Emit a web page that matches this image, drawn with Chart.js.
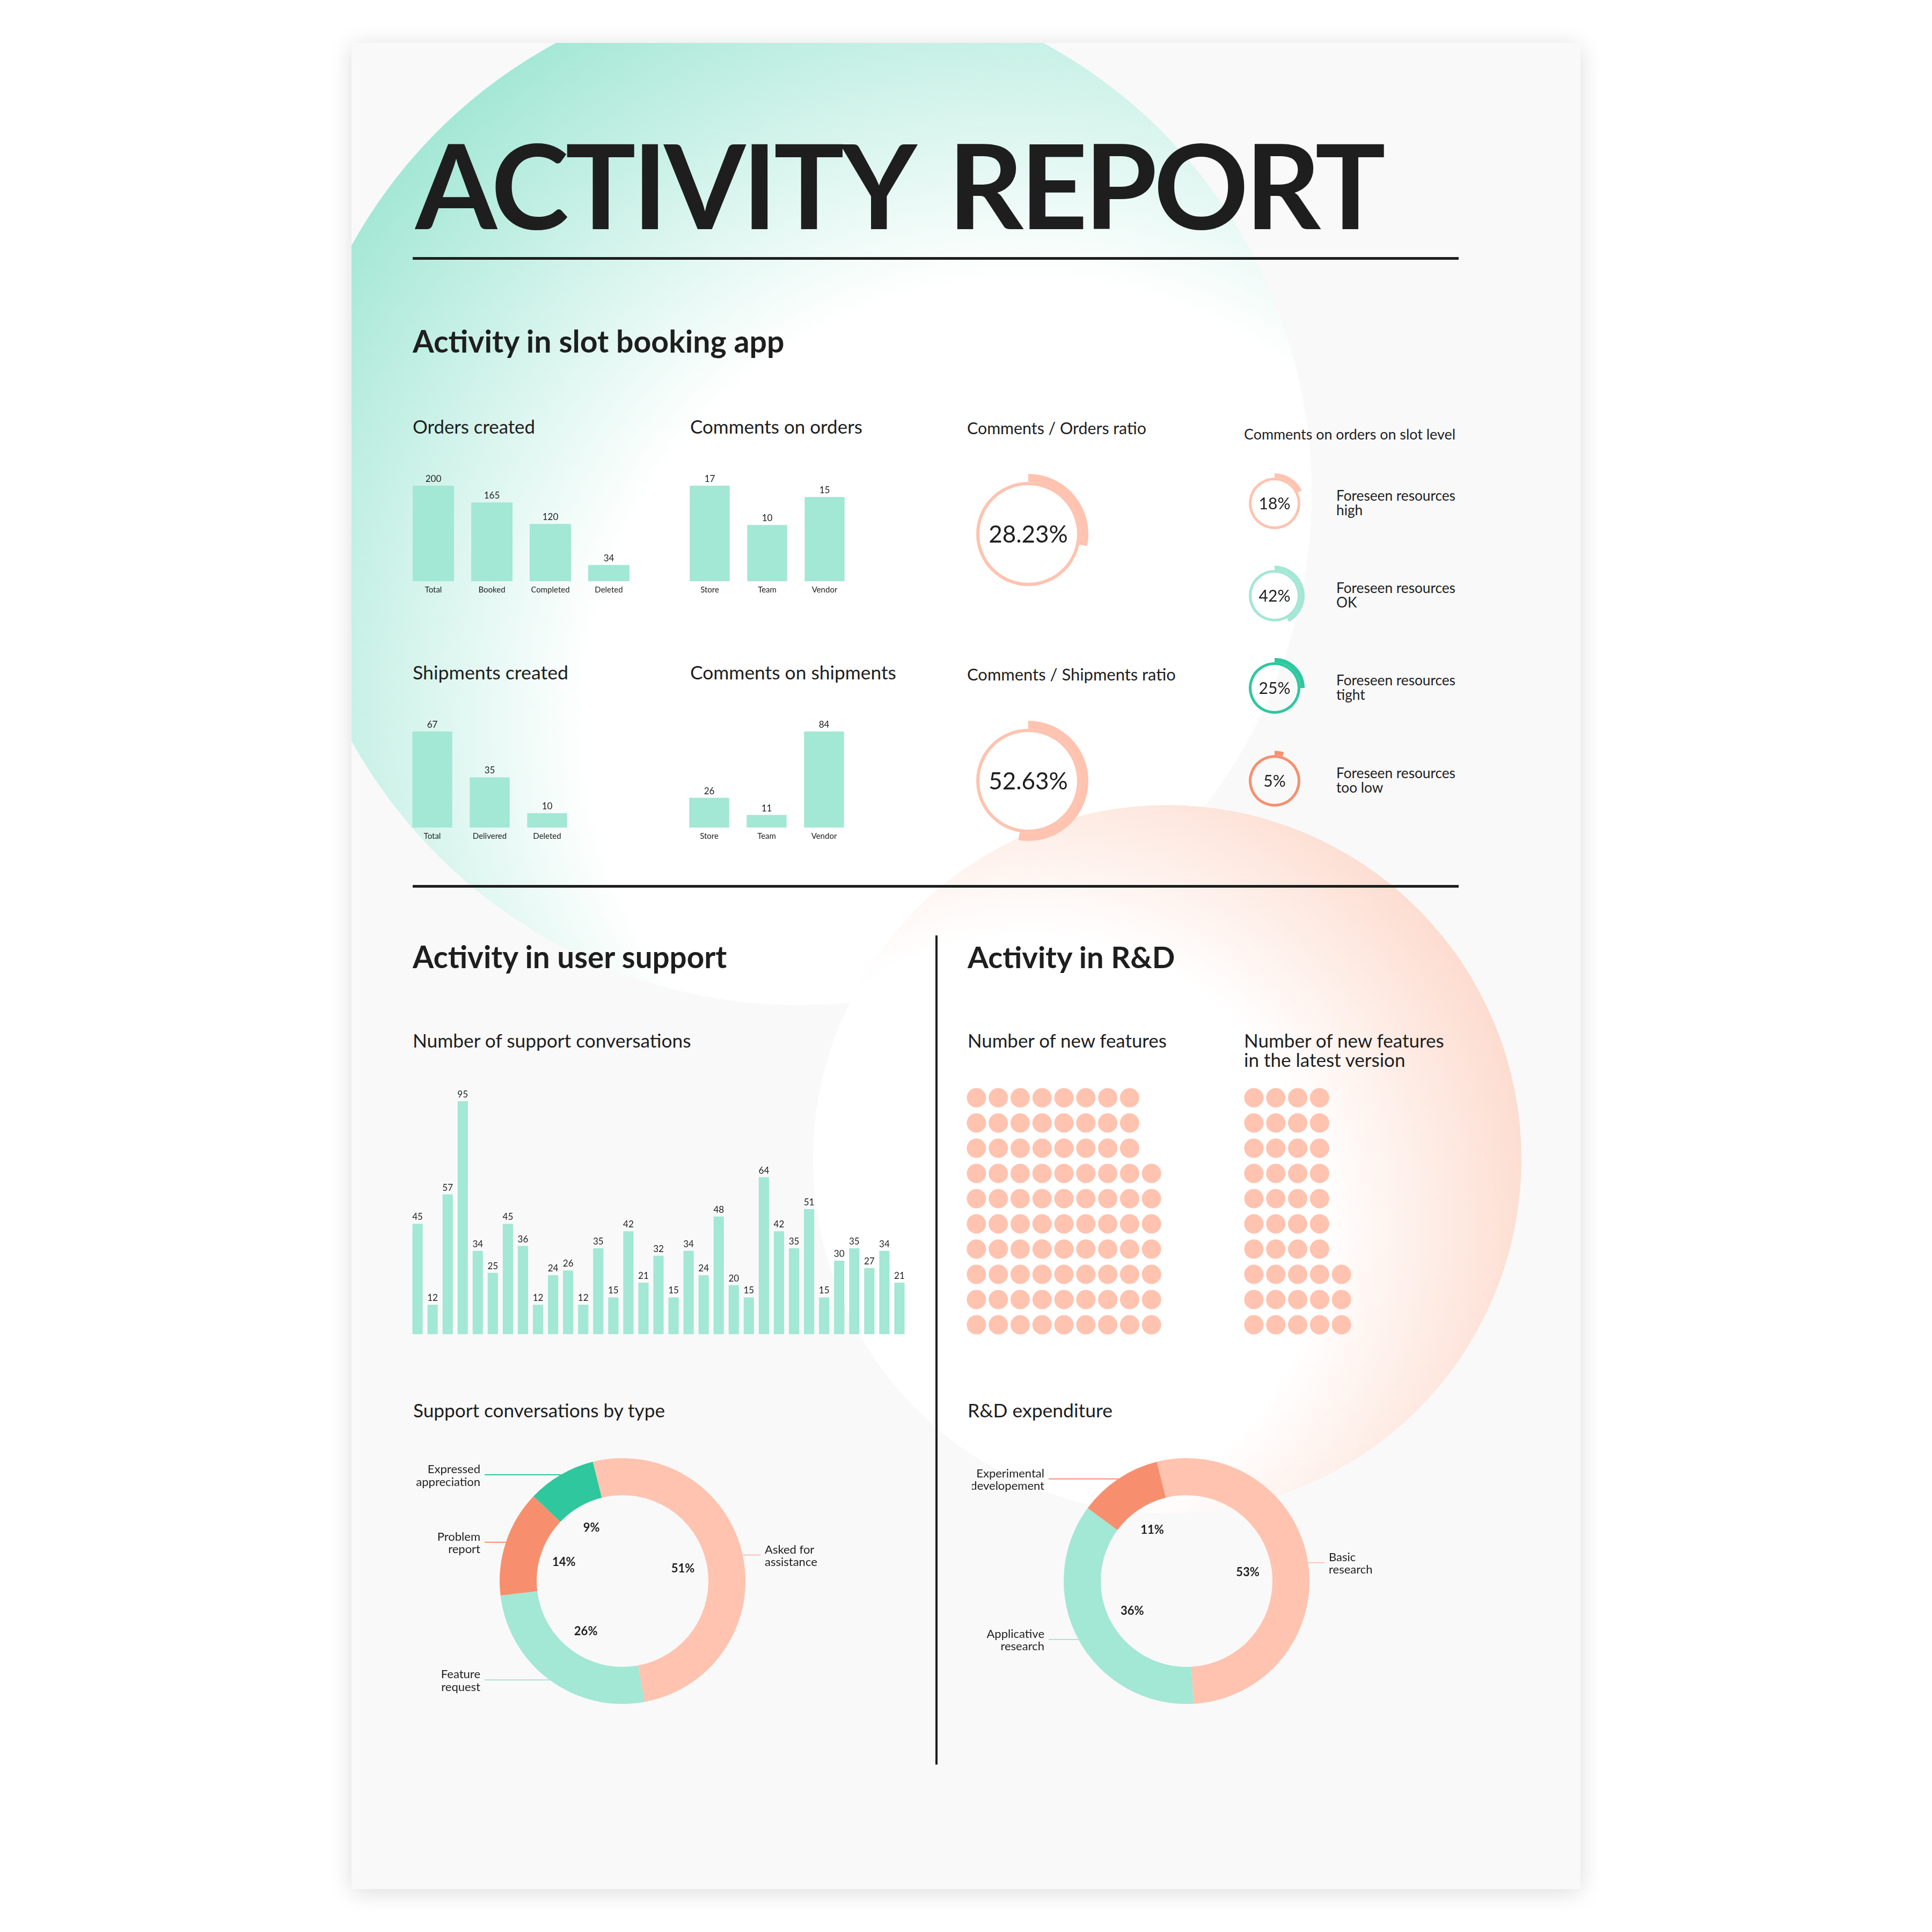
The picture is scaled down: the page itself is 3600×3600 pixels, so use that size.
<!DOCTYPE html>
<html>
<head>
<meta charset="utf-8">
<title>Activity report</title>
<script src="https://cdn.jsdelivr.net/npm/chart.js@4.4.1/dist/chart.umd.min.js"></script>
<style>
  html, body { margin: 0; padding: 0; background: #fff; }
  body { width: 3600px; height: 3600px; position: relative; overflow: hidden; font-family: Lato, 'Open Sans', sans-serif; color: #1e1e1e; }
  #page { position: absolute; left: 655px; top: 80px; width: 2290px; height: 3440px; background: #f9f9f9; overflow: hidden; box-shadow: 0 6px 40px rgba(0, 0, 0, 0.14); }
  .blob { position: absolute; border-radius: 50%; }
  #mint { left: -119px; top: -115px; width: 1908px; height: 1908px; background: radial-gradient(circle at 72% 72%, #ffffff 42%, #a3e7d5 80%); }
  #peach { left: 860px; top: 1420px; width: 1320px; height: 1320px; background: radial-gradient(circle at 30% 60%, #ffffff 45%, #fcd0bf 90%); }
  .rule { position: absolute; background: #1e1e1e; }
  .txt { position: absolute; white-space: nowrap; line-height: 1; }
  .probe { display: inline-block; width: 0; height: 0; vertical-align: baseline; }
  canvas { position: absolute; }
</style>
</head>
<body>
<div id="page"><div class="blob" id="mint"></div><div class="blob" id="peach"></div></div>
<div class="rule" style="left:769px; top:479px; width:1949px; height:5px"></div>
<div class="rule" style="left:769px; top:1649px; width:1949px; height:5px"></div>
<div class="rule" style="left:1743px; top:1743px; width:4px; height:1545px"></div>

<script>
// ---- data ----
const orderCats = ['Total', 'Booked', 'Completed', 'Deleted'];
const orderValues = [200, 165, 120, 34];
const orderCommentCats = ['Store', 'Team', 'Vendor'];
const orderCommentValues = [17, 10, 15];
const shipmentCats = ['Total', 'Delivered', 'Deleted'];
const shipmentValues = [67, 35, 10];
const shipmentCommentCats = ['Store', 'Team', 'Vendor'];
const shipmentCommentValues = [26, 11, 84];

const ratioOrders = 28.23;
const ratioShipments = 52.63;

const slotLabels = [['Foreseen resources', 'high'], ['Foreseen resources', 'OK'], ['Foreseen resources', 'tight'], ['Foreseen resources', 'too low']];
const slotValues = [18, 42, 25, 5];

const supportValues = [45, 12, 57, 95, 34, 25, 45, 36, 12, 24, 26, 12, 35, 15, 42, 21, 32, 15, 34, 24, 48, 20, 15, 64, 42, 35, 51, 15, 30, 35, 27, 34, 21];
const supportPeriods = supportValues.map((v, i) => String(i + 1));

const newFeatures = 87;
const newFeaturesLatest = 43;

const supportTypes = [['Asked for', 'assistance'], ['Feature', 'request'], ['Problem', 'report'], ['Expressed', 'appreciation']];
const supportShares = [51, 26, 14, 9];
const rdTypes = [['Basic', 'research'], ['Applicative', 'research'], ['Experimental', 'developement']];
const rdShares = [53, 36, 11];

// ---- colours ----
const TEXT = '#1e1e1e';
const MINT = '#a3e7d5';
const PEACH = '#ffc3b0';
const TEAL = '#2ec79e';
const SALMON = '#f78f6f';

Chart.defaults.font.family = 'Lato';
Chart.defaults.color = TEXT;
Chart.defaults.layout.autoPadding = false;

// ---- html text, fitted to the measured width of the reference ----
const measureCtx = document.createElement('canvas').getContext('2d');
function textWidth(str, size, weight) {
  measureCtx.font = weight + ' ' + size + 'px Lato';
  return measureCtx.measureText(str).width;
}

function placeText(lines, x, baseline, o) {
  const weight = o.weight || 400;
  let size = o.size || 100;
  let spacing = 0;
  const wordSpacing = o.wordSpacing || 0;
  const widest = Math.max(...lines.map(l => textWidth(l, size, weight)));
  if (o.spacing) {
    spacing = (o.w - widest - wordSpacing) / (lines[0].length - 1);
  } else {
    size = size * o.w / widest;
  }
  lines.forEach((line, k) => {
    const el = document.createElement('div');
    el.className = 'txt';
    el.style.fontSize = size + 'px';
    el.style.fontWeight = weight;
    el.style.letterSpacing = spacing + 'px';
    el.style.wordSpacing = wordSpacing + 'px';
    el.textContent = line;
    const probe = document.createElement('span');
    probe.className = 'probe';
    el.appendChild(probe);
    document.body.appendChild(el);
    el.style.left = x + 'px';
    el.style.top = (baseline + k * (o.lh || 0) - probe.offsetTop) + 'px';
  });
}

placeText(['ACTIVITY REPORT'], 774, 427, { w: 1817, size: 219, weight: 700, spacing: true, wordSpacing: 26 });
placeText(['Activity in slot booking app'], 769, 657, { w: 694, weight: 700 });
placeText(['Orders created'], 769, 808, { w: 228 });
placeText(['Comments on orders'], 1286, 808, { w: 321 });
placeText(['Comments / Orders ratio'], 1802, 809, { w: 334 });
placeText(['Comments on orders on slot level'], 2318, 819, { w: 394 });
placeText(['Shipments created'], 769, 1266, { w: 290 });
placeText(['Comments on shipments'], 1286, 1266, { w: 384 });
placeText(['Comments / Shipments ratio'], 1802, 1268, { w: 389 });
placeText(['Activity in user support'], 769, 1804, { w: 588, weight: 700 });
placeText(['Activity in R&D'], 1803, 1804, { w: 388, weight: 700 });
placeText(['Number of support conversations'], 769, 1952, { w: 520 });
placeText(['Number of new features'], 1803, 1952, { w: 373 });
placeText(['Number of new features', 'in the latest version'], 2318, 1952, { w: 375, lh: 36 });
placeText(['Support conversations by type'], 770, 2641, { w: 470 });
placeText(['R&D expenditure'], 1803, 2641, { w: 270 });

// ---- canvases ----
function makeCanvas(left, top, w, h) {
  const c = document.createElement('canvas');
  c.width = w;
  c.height = h;
  c.style.left = left + 'px';
  c.style.top = top + 'px';
  c.style.width = w + 'px';
  c.style.height = h + 'px';
  document.body.appendChild(c);
  return c;
}

// value written above each bar
const barValuePlugin = {
  id: 'barValues',
  afterDatasetsDraw(chart, args, opts) {
    const ctx = chart.ctx;
    const ds = chart.data.datasets[0];
    ctx.save();
    ctx.font = opts.size + 'px Lato';
    ctx.fillStyle = TEXT;
    ctx.textAlign = 'center';
    ctx.textBaseline = 'alphabetic';
    chart.getDatasetMeta(0).data.forEach((bar, i) => {
      ctx.fillText(ds.data[i], bar.x, bar.y - opts.gap);
    });
    ctx.restore();
  }
};

function smallBars(left, top, width, barH, labels, values, frac) {
  const canvas = makeCanvas(left, top, width, 30 + barH + 30);
  new Chart(canvas, {
    type: 'bar',
    data: {
      labels: labels,
      datasets: [{ data: values, backgroundColor: MINT, barPercentage: 1, categoryPercentage: frac }]
    },
    options: {
      responsive: false,
      animation: false,
      layout: { padding: { top: 30 } },
      plugins: { legend: { display: false }, tooltip: { enabled: false }, barValues: { size: 17, gap: 7 } },
      scales: {
        x: {
          grid: { display: false, drawTicks: false },
          border: { display: false },
          ticks: { font: { size: 15 }, padding: 7, color: TEXT, maxRotation: 0, autoSkip: false },
          afterFit(scale) { scale.height = 30; }
        },
        y: { display: false, min: 0, max: Math.max(...values) }
      }
    },
    plugins: [barValuePlugin]
  });
}

smallBars(753, 875, 436, 178, orderCats, orderValues, 0.706);
smallBars(1269, 875, 321, 178, orderCommentCats, orderCommentValues, 0.695);
smallBars(752, 1333, 321, 179, shipmentCats, shipmentValues, 0.695);
smallBars(1268, 1333, 321, 179, shipmentCommentCats, shipmentCommentValues, 0.695);

// percentage in the middle of a ring
const centerLabelPlugin = {
  id: 'centerLabel',
  afterDraw(chart, args, opts) {
    const { ctx, chartArea } = chart;
    ctx.save();
    ctx.font = opts.size + 'px Lato';
    ctx.fillStyle = TEXT;
    ctx.textAlign = 'center';
    ctx.textBaseline = 'alphabetic';
    const cx = (chartArea.left + chartArea.right) / 2;
    const cy = (chartArea.top + chartArea.bottom) / 2;
    ctx.fillText(opts.text, cx, cy + opts.size * 0.36);
    ctx.restore();
  }
};

function ring(cx, cy, value, color, rOuter, rThin, rInner, fontSize) {
  const size = 2 * rOuter;
  const canvas = makeCanvas(cx - rOuter, cy - rOuter, size, size);
  new Chart(canvas, {
    type: 'doughnut',
    data: {
      datasets: [
        { data: [value, 100 - value], backgroundColor: [color, 'rgba(0,0,0,0)'], borderWidth: 0, weight: rOuter - rThin },
        { data: [100], backgroundColor: [color], borderWidth: 0, weight: rThin - rInner }
      ]
    },
    options: {
      responsive: false,
      animation: false,
      radius: rOuter,
      cutout: (rInner / rOuter * 100) + '%',
      plugins: { legend: { display: false }, tooltip: { enabled: false }, centerLabel: { text: value + '%', size: fontSize } }
    },
    plugins: [centerLabelPlugin]
  });
}

ring(1916, 995, ratioOrders, PEACH, 112, 97, 91, 44);
ring(1916, 1455, ratioShipments, PEACH, 112, 97, 91, 44);

const slotColors = [PEACH, MINT, TEAL, SALMON];
const slotCenters = [938, 1110, 1282, 1455];
slotValues.forEach((v, i) => {
  ring(2375, slotCenters[i], v, slotColors[i], 56, 48, 43, 30);
  placeText(slotLabels[i], 2490, slotCenters[i] - 5, { w: 222, lh: 27 });
});

// support conversations
const supportCanvas = makeCanvas(764, 2022, 926, 464);
new Chart(supportCanvas, {
  type: 'bar',
  data: {
    labels: supportPeriods,
    datasets: [{ data: supportValues, backgroundColor: MINT, barPercentage: 1, categoryPercentage: 0.68 }]
  },
  options: {
    responsive: false,
    animation: false,
    layout: { padding: { top: 30 } },
    plugins: { legend: { display: false }, tooltip: { enabled: false }, barValues: { size: 17, gap: 7 } },
    scales: {
      x: { display: false },
      y: { display: false, min: 0, max: Math.max(...supportValues) }
    }
  },
  plugins: [barValuePlugin]
});

// waffles: columns of ten, filled from the bottom
function waffle(left, top, count) {
  const cols = Math.ceil(count / 10);
  const pts = [];
  for (let i = 0; i < count; i++) {
    pts.push({ x: Math.floor(i / 10), y: i % 10 });
  }
  const canvas = makeCanvas(left, top, Math.round(cols * 40.8), 470);
  new Chart(canvas, {
    type: 'scatter',
    data: { datasets: [{ data: pts, backgroundColor: PEACH, pointRadius: 18, pointHoverRadius: 18, pointBorderWidth: 0, clip: false }] },
    options: {
      responsive: false,
      animation: false,
      layout: { padding: 0, autoPadding: false },
      plugins: { legend: { display: false }, tooltip: { enabled: false } },
      scales: {
        x: { display: false, min: -0.5, max: cols - 0.5 },
        y: { display: false, min: -0.5, max: 9.5 }
      }
    }
  });
}

waffle(1799, 2022, newFeatures);
waffle(2316, 2022, newFeaturesLatest);

// donuts with callouts
const calloutPlugin = {
  id: 'callouts',
  afterDatasetsDraw(chart) {
    const ctx = chart.ctx;
    const ds = chart.data.datasets[0];
    ctx.save();
    chart.getDatasetMeta(0).data.forEach((arc, i) => {
      const p = arc.getProps(['x', 'y', 'startAngle', 'endAngle', 'outerRadius', 'innerRadius'], true);
      const mid = (p.startAngle + p.endAngle) / 2;
      const color = ds.backgroundColor[i];

      ctx.font = 'bold 22px Lato';
      ctx.fillStyle = TEXT;
      ctx.textAlign = 'center';
      ctx.textBaseline = 'alphabetic';
      const r = p.innerRadius * 0.72;
      ctx.fillText(ds.data[i] + '%', p.x + Math.cos(mid) * r, p.y + Math.sin(mid) * r + 8);

      const ex = p.x + Math.cos(mid) * p.outerRadius;
      const ey = p.y + Math.sin(mid) * p.outerRadius;
      const side = Math.cos(mid) >= 0 ? 1 : -1;
      ctx.strokeStyle = color;
      ctx.lineWidth = 2;
      ctx.beginPath();
      ctx.moveTo(ex, ey);
      ctx.lineTo(p.x + side * 257, ey);
      ctx.stroke();

      ctx.font = '22px Lato';
      ctx.textAlign = side > 0 ? 'left' : 'right';
      chart.data.labels[i].forEach((line, k) => {
        ctx.fillText(line, p.x + side * 265, ey - 3 + k * 23.5);
      });
    });
    ctx.restore();
  }
};

function donut(cx, cy, labels, values, colors) {
  const canvas = makeCanvas(cx - 400, cy - 260, 800, 520);
  new Chart(canvas, {
    type: 'doughnut',
    data: { labels: labels, datasets: [{ data: values, backgroundColor: colors, borderWidth: 0 }] },
    options: {
      responsive: false,
      animation: false,
      radius: 229,
      cutout: (160 / 229 * 100) + '%',
      rotation: -14,
      plugins: { legend: { display: false }, tooltip: { enabled: false } }
    },
    plugins: [calloutPlugin]
  });
}

donut(1160, 2946, supportTypes, supportShares, [PEACH, MINT, SALMON, TEAL]);
donut(2211, 2946, rdTypes, rdShares, [PEACH, MINT, SALMON]);
</script>
</body>
</html>
